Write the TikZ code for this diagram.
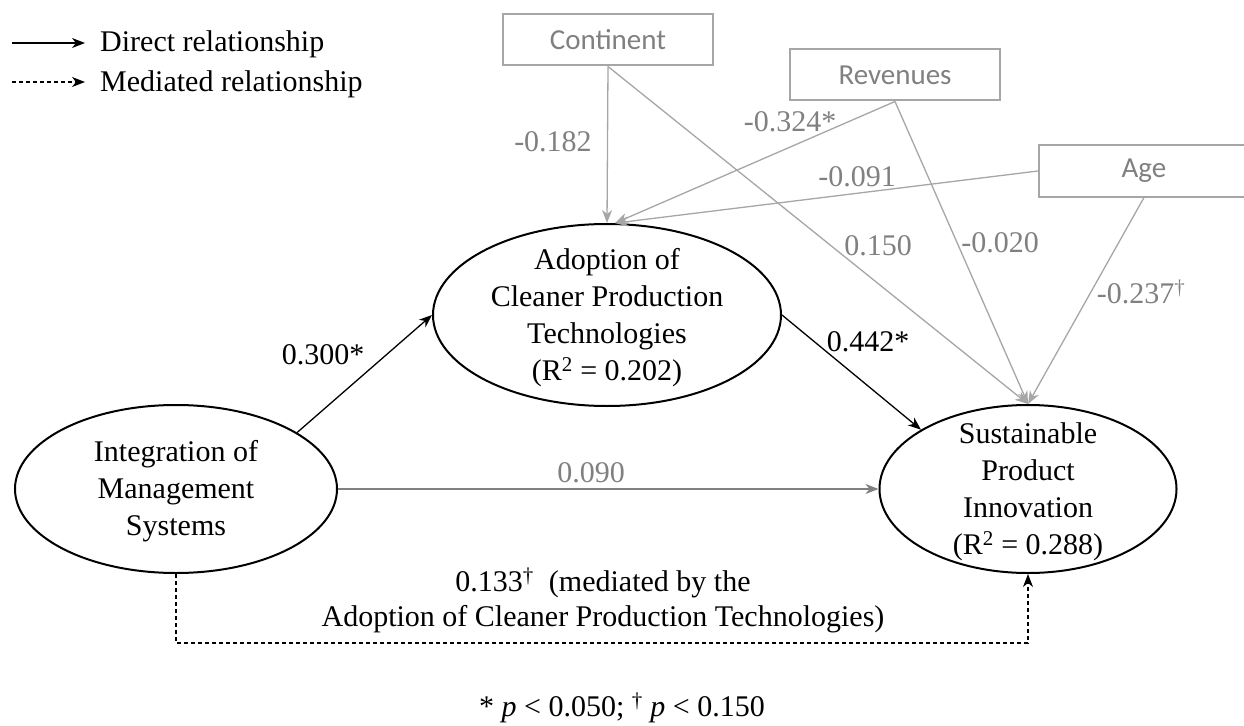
\documentclass[tikz,border=0pt]{standalone}
\usepackage{fontspec}
\setmainfont{Liberation Serif}
\newfontfamily\boxfont{Carlito}
\usetikzlibrary{arrows.meta,shapes.geometric}
\definecolor{lgray}{HTML}{A6A6A6}
\definecolor{tgray}{HTML}{808080}
\begin{document}
\begin{tikzpicture}[x=1bp,y=-1bp,
  every node/.style={font=\fontsize{30bp}{37bp}\selectfont, inner sep=0pt},
  latent/.style={draw, ellipse, line width=2bp},
  ctrl/.style={draw=lgray, line width=2bp, minimum width=210bp, minimum height=51bp,
    font=\boxfont\fontsize{29bp}{35bp}\selectfont, text=tgray},
  dirarrow/.style={-{Stealth[length=13bp,width=10bp,inset=4bp]}, line width=1.3bp},
  ctrlarrow/.style={dirarrow, draw=lgray},
  grayarrow/.style={dirarrow, draw=tgray},
  medarrow/.style={dirarrow, dash pattern=on 4bp off 3bp},
  glabel/.style={text=tgray}]
\useasboundingbox (0,0) rectangle (1244,726);

% legend
\coordinate (s1) at (12,43); \coordinate (e1) at (85,43);
\coordinate (s2) at (12,82); \coordinate (e2) at (85,82);
\draw[dirarrow] (s1) -- (e1);
\draw[medarrow] (s2) -- (e2);
\node[anchor=base west] (t1) at (100,52) {Direct relationship};
\node[anchor=base west] (t2) at (100,92) {Mediated relationship};

% latent variables
\node[latent, minimum width=322bp, minimum height=168bp] (ims) at (176,489) {};
\node[align=center] (imst) at (176,491) {Integration of\\Management\\Systems};
\node[latent, minimum width=348bp, minimum height=182bp] (acpt) at (607,315) {};
\node[align=center] (acptt) at (607,318) {Adoption of\\Cleaner Production\\Technologies\\(R\textsuperscript{2} = 0.202)};
\node[latent, minimum width=297bp, minimum height=168bp] (spi) at (1028,489) {};
\node[align=center] (spit) at (1028,492) {Sustainable\\Product\\Innovation\\(R\textsuperscript{2} = 0.288)};

% controls
\node[ctrl] (cont) at (608,40) {Continent};
\node[ctrl] (rev) at (895,75) {Revenues};
\node[ctrl] (age) at (1144,171) {Age};

% control paths
\draw[ctrlarrow] (cont.south) -- (acpt.north);
\draw[ctrlarrow] (cont.south) -- (spi.north);
\draw[ctrlarrow] (rev.south) -- (acpt.85);
\draw[ctrlarrow] (rev.south) -- (spi.north);
\draw[ctrlarrow] (age.west) -- (acpt.85);
\draw[ctrlarrow] (age.south) -- (spi.north);

% main paths
\draw[dirarrow] (ims.25) -- (acpt.west);
\draw[dirarrow] (acpt.east) -- (spi.151);
\draw[grayarrow] (ims.east) -- (spi.west);
\coordinate (dl) at (176,643);
\coordinate (dr) at (1028,643);
\draw[medarrow] (ims.south) -- (dl) -- (dr) -- (spi.south);

% labels
\node[glabel] (lc1) at (553,142) {-0.182};
\node[glabel] (lr1) at (790,122) {-0.324*};
\node[glabel] (la1) at (857,177) {-0.091};
\node[glabel] (lc2) at (878,246) {0.150};
\node[glabel] (lr2) at (1000,243) {-0.020};
\node[glabel] (la2) at (1141,292) {-0.237\textsuperscript{\textdagger}};
\node (l300) at (323,355) {0.300*};
\node (l442) at (868,342) {0.442*};
\node[glabel] (l090) at (591,473) {0.090};
\node[align=center, font=\fontsize{30bp}{35bp}\selectfont] (lmed) at (603,600) {0.133\textsuperscript{\textdagger}\ \ (mediated by the\\Adoption of Cleaner Production Technologies)};

% footnote
\node[anchor=base] (fn) at (622,716) {* \textit{p} < 0.050; \textsuperscript{\textdagger} \textit{p} < 0.150};
\end{tikzpicture}
\end{document}
